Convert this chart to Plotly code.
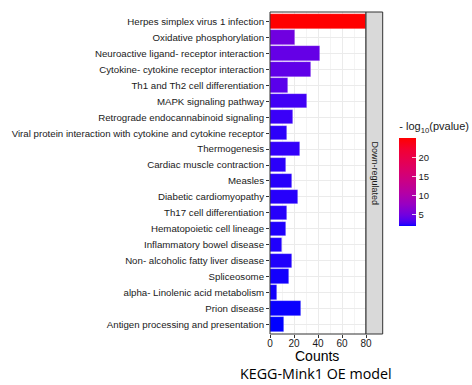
import plotly.graph_objects as go

pathways = [
    "Herpes simplex virus 1 infection",
    "Oxidative phosphorylation",
    "Neuroactive ligand- receptor interaction",
    "Cytokine- cytokine receptor interaction",
    "Th1 and Th2 cell differentiation",
    "MAPK signaling pathway",
    "Retrograde endocannabinoid signaling",
    "Viral protein interaction with cytokine and cytokine receptor",
    "Thermogenesis",
    "Cardiac muscle contraction",
    "Measles",
    "Diabetic cardiomyopathy",
    "Th17 cell differentiation",
    "Hematopoietic cell lineage",
    "Inflammatory bowel disease",
    "Non- alcoholic fatty liver disease",
    "Spliceosome",
    "alpha- Linolenic acid metabolism",
    "Prion disease",
    "Antigen processing and presentation",
]
counts = [80, 21, 42, 34, 15, 31, 19, 14, 25, 13, 18, 23, 14, 13, 10, 18, 16, 6, 26, 12]
neg_log10_p = [25.1, 4.73, 4.19, 3.96, 3.68, 2.8, 2.57, 2.33, 2.45, 2.29,
               2.22, 2.22, 2.22, 2.1, 2.1, 2.1, 2.01, 2.01, 1.94, 1.87]
x_ticks = [0, 20, 40, 60, 80]
colorbar_ticks = [5, 10, 15, 20]
strip_label = "Down-regulated"
x_title = "Counts"
caption = "KEGG-Mink1 OE model"

# blue -> red gradient (approximating Lab interpolation)
colorscale = [
    [0.0, "#0000FF"], [0.01, "#2000FC"], [0.03, "#3A00F8"], [0.0625, "#5200EF"],
    [0.125, "#7100E0"], [0.25, "#9900C2"], [0.375, "#B400A5"], [0.5, "#C80088"],
    [0.625, "#D9006C"], [0.75, "#E7004F"], [0.875, "#F30031"], [1.0, "#FF0000"],
]

W, H = 472, 385
pl, pr, pt, pb = 270, 366, 12, 334
pw, ph = pr - pl, pb - pt

def px(xp):
    return (xp - pl) / pw

def py(yp):
    return (pb - yp) / ph

fig = go.Figure()
fig.add_trace(go.Bar(
    x=counts, y=pathways, orientation="h", width=0.9,
    marker=dict(
        color=neg_log10_p, colorscale=colorscale,
        cmin=min(neg_log10_p), cmax=max(neg_log10_p),
        line=dict(width=0.6, color="rgba(255,255,255,0.35)"),
        showscale=True,
        colorbar=dict(
            title=dict(text="- log<sub>10</sub>(pvalue)", side="top",
                       font=dict(family="Liberation Sans, Arial", size=11, color="#1A1A1A")),
            x=px(399.3), xanchor="left", xref="paper",
            y=py(226), yanchor="bottom", yref="paper",
            len=107, lenmode="pixels", thickness=17, thicknessmode="pixels",
            ypad=0, xpad=0, outlinewidth=0,
            tickvals=colorbar_ticks, ticks="inside", ticklen=4,
            tickcolor="rgba(255,255,255,0.8)", tickwidth=1,
            tickfont=dict(family="Liberation Sans, Arial", size=9.5, color="#1A1A1A"),
        ),
    ),
    hoverinfo="x+y",
))

fig.update_layout(
    width=W, height=H,
    margin=dict(l=pl, r=W - pr, t=pt, b=H - pb, pad=0, autoexpand=False),
    paper_bgcolor="white", plot_bgcolor="white",
    showlegend=False,
    bargap=0,
    font=dict(family="Liberation Sans, Arial", color="#1A1A1A"),
    xaxis=dict(
        range=[0, 80], tickvals=x_ticks, showgrid=True, gridcolor="#EBEBEB", gridwidth=1,
        minor=dict(dtick=10, showgrid=True, gridcolor="#F4F4F4", gridwidth=0.6),
        ticks="outside", ticklen=3, tickcolor="#333333", tickwidth=1,
        ticklabelstandoff=-3,
        tickfont=dict(size=10, color="#1A1A1A"), zeroline=False, showline=False,
        fixedrange=True, automargin=False,
    ),
    yaxis=dict(
        type="category", categoryorder="array", categoryarray=pathways,
        range=[len(pathways) - 1 + 0.6, -0.6],
        showgrid=True, gridcolor="#EBEBEB", gridwidth=1,
        ticks="outside", ticklen=3, tickcolor="#333333", tickwidth=1,
        tickfont=dict(size=9.7, color="#1A1A1A"), zeroline=False, showline=False,
        fixedrange=True, automargin=False,
    ),
    shapes=[
        dict(type="rect", xref="paper", yref="paper", x0=0, x1=1, y0=0, y1=1,
             line=dict(color="#333333", width=1), fillcolor="rgba(0,0,0,0)", layer="above"),
        dict(type="rect", xref="paper", yref="paper", x0=1, x1=px(382.7), y0=0, y1=1,
             line=dict(color="#333333", width=1), fillcolor="#D9D9D9", layer="above"),
    ],
    annotations=[
        dict(text=strip_label, xref="paper", yref="paper", x=px(374.5), y=0.5,
             textangle=90, showarrow=False, xanchor="center", yanchor="middle",
             font=dict(size=9, color="#1A1A1A")),
        dict(text=x_title, xref="paper", yref="paper", x=px(316.5), y=py(356),
             showarrow=False, xanchor="center", yanchor="middle",
             font=dict(size=14, color="#000000")),
        dict(text=caption, xref="paper", yref="paper", x=px(316), y=py(373.5),
             showarrow=False, xanchor="center", yanchor="middle",
             font=dict(family="Open Sans", size=14.3, color="#000000")),
    ],
)

fig.write_html("out.html")
